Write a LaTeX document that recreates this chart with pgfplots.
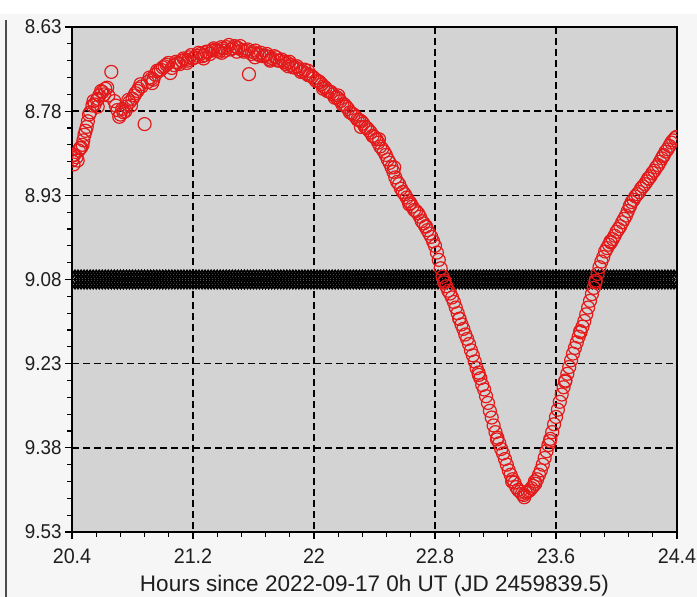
\documentclass[border=0pt]{standalone}
\usepackage{pgfplots}
\pgfplotsset{compat=1.18}
\usepackage{fontspec}
\setmainfont{Liberation Sans}
\newfontfamily\tickfont{Liberation Sans}[FakeStretch=0.94]
\definecolor{plotbg}{RGB}{211,211,211}
\definecolor{pagebg}{RGB}{246,246,246}
\definecolor{ptred}{RGB}{228,26,26}
\definecolor{txt}{RGB}{30,30,30}
\begin{document}
\begin{tikzpicture}
\useasboundingbox (-72pt,-65pt) rectangle (625pt,532pt);
\fill[pagebg] (-72pt,-65pt) rectangle (625pt,532pt);
\fill[white] (-72pt,518pt) rectangle (625pt,532pt);
\draw[gray!60!black, line width=1.2pt] (-66pt,-65pt) -- (-66pt,512pt);
\begin{axis}[
  at={(0pt,0pt)}, anchor=south west,
  scale only axis, width=605pt, height=505pt,
  xmin=20.4, xmax=24.4, ymin=8.63, ymax=9.53, y dir=reverse,
  xtick={20.4,21.2,22,22.8,23.6,24.4},
  xticklabels={20.4,21.2,22,22.8,23.6,24.4},
  ytick={8.63,8.78,8.93,9.08,9.23,9.38,9.53},
  yticklabels={8.63,8.78,8.93,9.08,9.23,9.38,9.53},
  minor x tick num=4, minor y tick num=4,
  tick pos=left, tick align=outside,
  major tick length=7pt, minor tick length=4.5pt,
  every tick/.style={black, line width=1.2pt},
  axis background/.style={fill=plotbg},
  grid=major,
  major grid style={black, line width=1.6pt, dash pattern=on 7pt off 4pt},
  axis line style={black, line width=1.3pt},
  xticklabel style={font=\tickfont\fontsize{21}{23}\selectfont, text=txt, yshift=-6pt},
  yticklabel style={font=\tickfont\fontsize{20}{22}\selectfont, text=txt},
  xlabel={Hours since 2022-09-17 0h UT (JD 2459839.5)},
  xlabel style={font=\fontsize{22.5}{24}\selectfont, text=txt, yshift=-7pt, inner sep=1pt},
  clip=true, clip marker paths=true,
]
\addplot[only marks, mark=diamond, mark size=9pt, mark options={draw=black, fill=none, line width=1.8pt}] coordinates {
(20.40,9.08) (20.42,9.08) (20.44,9.08) (20.46,9.08) (20.48,9.08) (20.50,9.08) (20.52,9.08) (20.54,9.08) (20.56,9.08) (20.58,9.08)
(20.60,9.08) (20.62,9.08) (20.64,9.08) (20.66,9.08) (20.68,9.08) (20.70,9.08) (20.72,9.08) (20.74,9.08) (20.76,9.08) (20.78,9.08)
(20.80,9.08) (20.82,9.08) (20.84,9.08) (20.86,9.08) (20.88,9.08) (20.90,9.08) (20.92,9.08) (20.94,9.08) (20.96,9.08) (20.98,9.08)
(21.00,9.08) (21.02,9.08) (21.04,9.08) (21.06,9.08) (21.08,9.08) (21.10,9.08) (21.12,9.08) (21.14,9.08) (21.16,9.08) (21.18,9.08)
(21.20,9.08) (21.22,9.08) (21.24,9.08) (21.26,9.08) (21.28,9.08) (21.30,9.08) (21.32,9.08) (21.34,9.08) (21.36,9.08) (21.38,9.08)
(21.40,9.08) (21.42,9.08) (21.44,9.08) (21.46,9.08) (21.48,9.08) (21.50,9.08) (21.52,9.08) (21.54,9.08) (21.56,9.08) (21.58,9.08)
(21.60,9.08) (21.62,9.08) (21.64,9.08) (21.66,9.08) (21.68,9.08) (21.70,9.08) (21.72,9.08) (21.74,9.08) (21.76,9.08) (21.78,9.08)
(21.80,9.08) (21.82,9.08) (21.84,9.08) (21.86,9.08) (21.88,9.08) (21.90,9.08) (21.92,9.08) (21.94,9.08) (21.96,9.08) (21.98,9.08)
(22.00,9.08) (22.02,9.08) (22.04,9.08) (22.06,9.08) (22.08,9.08) (22.10,9.08) (22.12,9.08) (22.14,9.08) (22.16,9.08) (22.18,9.08)
(22.20,9.08) (22.22,9.08) (22.24,9.08) (22.26,9.08) (22.28,9.08) (22.30,9.08) (22.32,9.08) (22.34,9.08) (22.36,9.08) (22.38,9.08)
(22.40,9.08) (22.42,9.08) (22.44,9.08) (22.46,9.08) (22.48,9.08) (22.50,9.08) (22.52,9.08) (22.54,9.08) (22.56,9.08) (22.58,9.08)
(22.60,9.08) (22.62,9.08) (22.64,9.08) (22.66,9.08) (22.68,9.08) (22.70,9.08) (22.72,9.08) (22.74,9.08) (22.76,9.08) (22.78,9.08)
(22.80,9.08) (22.82,9.08) (22.84,9.08) (22.86,9.08) (22.88,9.08) (22.90,9.08) (22.92,9.08) (22.94,9.08) (22.96,9.08) (22.98,9.08)
(23.00,9.08) (23.02,9.08) (23.04,9.08) (23.06,9.08) (23.08,9.08) (23.10,9.08) (23.12,9.08) (23.14,9.08) (23.16,9.08) (23.18,9.08)
(23.20,9.08) (23.22,9.08) (23.24,9.08) (23.26,9.08) (23.28,9.08) (23.30,9.08) (23.32,9.08) (23.34,9.08) (23.36,9.08) (23.38,9.08)
(23.40,9.08) (23.42,9.08) (23.44,9.08) (23.46,9.08) (23.48,9.08) (23.50,9.08) (23.52,9.08) (23.54,9.08) (23.56,9.08) (23.58,9.08)
(23.60,9.08) (23.62,9.08) (23.64,9.08) (23.66,9.08) (23.68,9.08) (23.70,9.08) (23.72,9.08) (23.74,9.08) (23.76,9.08) (23.78,9.08)
(23.80,9.08) (23.82,9.08) (23.84,9.08) (23.86,9.08) (23.88,9.08) (23.90,9.08) (23.92,9.08) (23.94,9.08) (23.96,9.08) (23.98,9.08)
(24.00,9.08) (24.02,9.08) (24.04,9.08) (24.06,9.08) (24.08,9.08) (24.10,9.08) (24.12,9.08) (24.14,9.08) (24.16,9.08) (24.18,9.08)
(24.20,9.08) (24.22,9.08) (24.24,9.08) (24.26,9.08) (24.28,9.08) (24.30,9.08) (24.32,9.08) (24.34,9.08) (24.36,9.08) (24.38,9.08)
(24.40,9.08)
};
\addplot[only marks, mark=o, mark size=6.5pt, mark options={draw=ptred, line width=1.2pt}] coordinates {
(20.400,8.868) (20.415,8.858) (20.430,8.862) (20.445,8.850) (20.460,8.845) (20.475,8.832) (20.490,8.815) (20.505,8.798)
(20.520,8.782) (20.535,8.770) (20.550,8.768) (20.565,8.760) (20.580,8.752) (20.600,8.746) (20.620,8.740) (20.640,8.752)
(20.660,8.710) (20.680,8.762) (20.700,8.778) (20.720,8.786) (20.740,8.782) (20.760,8.772) (20.780,8.764) (20.800,8.758)
(20.820,8.748) (20.840,8.740) (20.860,8.736) (20.880,8.803) (20.900,8.728) (20.925,8.722) (20.950,8.715) (20.975,8.708)
(21.000,8.702) (21.025,8.697) (21.050,8.712) (21.075,8.698) (21.100,8.694) (21.125,8.690) (21.150,8.688) (21.175,8.684)
(21.200,8.686) (21.225,8.681) (21.250,8.678) (21.275,8.680) (21.300,8.674) (21.325,8.672) (21.350,8.670) (21.375,8.674)
(21.400,8.668) (21.425,8.666) (21.450,8.670) (21.475,8.664) (21.500,8.668) (21.525,8.671) (21.550,8.672) (21.570,8.714)
(21.600,8.675) (21.625,8.678) (21.650,8.676) (21.675,8.681) (21.700,8.683) (21.725,8.686) (21.750,8.684) (21.775,8.690)
(21.800,8.692) (21.825,8.694) (21.850,8.698) (21.875,8.702) (21.900,8.705) (21.925,8.709) (21.950,8.713) (21.975,8.716)
(22.000,8.721) (22.025,8.726) (22.050,8.732) (22.075,8.738) (22.100,8.745) (22.125,8.750) (22.150,8.755) (22.175,8.762)
(22.200,8.768) (22.225,8.776) (22.250,8.784) (22.275,8.790) (22.300,8.796) (22.325,8.802) (22.350,8.810) (22.375,8.818)
(22.400,8.826) (22.425,8.836) (22.450,8.847) (22.475,8.858) (22.500,8.872) (22.525,8.888) (22.550,8.906) (22.575,8.918)
(22.600,8.928) (22.625,8.940) (22.650,8.950) (22.675,8.958) (22.700,8.968) (22.725,8.980) (22.750,8.992) (22.775,9.004)
(22.800,9.020) (22.825,9.045) (22.850,9.075) (22.875,9.092) (22.900,9.105) (22.925,9.120) (22.950,9.140) (22.975,9.160)
(23.000,9.178) (23.025,9.195) (23.050,9.215) (23.075,9.238) (23.100,9.256) (23.125,9.276) (23.150,9.300) (23.175,9.326)
(23.200,9.352) (23.225,9.372) (23.250,9.390) (23.275,9.410) (23.300,9.428) (23.325,9.442) (23.350,9.455) (23.375,9.462)
(23.400,9.460) (23.425,9.456) (23.450,9.448) (23.475,9.436) (23.500,9.420) (23.525,9.398) (23.550,9.375) (23.575,9.352)
(23.600,9.325) (23.625,9.298) (23.650,9.272) (23.675,9.248) (23.700,9.224) (23.725,9.202) (23.750,9.182) (23.775,9.164)
(23.800,9.142) (23.825,9.118) (23.850,9.095) (23.875,9.070) (23.900,9.048) (23.925,9.030) (23.950,9.018) (23.975,9.008)
(24.000,8.995) (24.025,8.985) (24.050,8.972) (24.075,8.958) (24.100,8.942) (24.125,8.932) (24.150,8.924) (24.175,8.914)
(24.200,8.905) (24.225,8.896) (24.250,8.886) (24.275,8.876) (24.300,8.864) (24.325,8.852) (24.350,8.842) (24.375,8.832)
(24.395,8.826)
(20.410,8.875) (20.470,8.840) (20.570,8.772) (20.690,8.770) (20.790,8.770) (20.930,8.730) (21.060,8.703) (21.160,8.694)
(21.270,8.686) (21.390,8.676) (21.490,8.674) (21.610,8.684) (21.710,8.690) (21.830,8.700) (21.960,8.708) (22.060,8.740)
(22.160,8.752) (22.310,8.808) (22.430,8.830) (22.530,8.880) (22.630,8.946) (22.740,8.985) (22.860,9.085) (22.960,9.150)
(23.090,9.250) (23.210,9.365) (23.310,9.440) (23.390,9.468) (23.460,9.440) (23.560,9.368) (23.660,9.262) (23.760,9.172)
(23.860,9.085) (23.960,9.012) (24.090,8.948) (24.210,8.900) (24.310,8.860)
(20.4075,8.858) (20.4375,8.868) (20.4525,8.846) (20.4825,8.822) (20.4975,8.808) (20.5125,8.786) (20.5425,8.762) (20.5725,8.758)
(20.5925,8.744) (20.6125,8.750) (20.6325,8.738) (20.7125,8.790) (20.7325,8.776) (20.7525,8.780) (20.7725,8.760) (20.8125,8.752)
(20.8325,8.744) (20.8525,8.732) (20.9125,8.720) (20.9375,8.724) (20.9625,8.708) (20.9875,8.706) (21.0125,8.700) (21.0375,8.694)
(21.0875,8.692) (21.1125,8.696) (21.1375,8.686) (21.1625,8.690) (21.1875,8.680) (21.2125,8.684) (21.2375,8.676) (21.2625,8.682)
(21.2875,8.674) (21.3125,8.678) (21.3375,8.668) (21.3625,8.672) (21.3875,8.666) (21.4125,8.672) (21.4375,8.662) (21.4625,8.668)
(21.4875,8.666) (21.5125,8.664) (21.5375,8.674) (21.5625,8.670) (21.5875,8.678) (21.6125,8.672) (21.6375,8.680) (21.6625,8.682)
(21.6875,8.678) (21.7125,8.688) (21.7375,8.682) (21.7625,8.690) (21.7875,8.688) (21.8125,8.696) (21.8375,8.692) (21.8625,8.702)
(21.8875,8.700) (21.9125,8.710) (21.9375,8.706) (21.9625,8.716) (21.9875,8.718) (22.0125,8.726) (22.0375,8.728) (22.0625,8.736)
(22.0875,8.744) (22.1125,8.746) (22.1375,8.756) (22.1625,8.758) (22.1875,8.768) (22.2125,8.772) (22.2375,8.782) (22.2625,8.786)
(22.2875,8.795) (22.3125,8.798) (22.3375,8.808) (22.3625,8.814) (22.3875,8.824) (22.4125,8.830) (22.4375,8.843) (22.4625,8.852)
(22.4875,8.866) (22.5125,8.880) (22.5375,8.898) (22.5625,8.910) (22.5875,8.924) (22.6125,8.934) (22.6375,8.944) (22.6625,8.956)
(22.6875,8.962) (22.7125,8.976) (22.7375,8.986) (22.7625,8.998) (22.7875,9.012) (22.8125,9.032) (22.8375,9.060) (22.8625,9.082)
(22.8875,9.100) (22.9125,9.112) (22.9375,9.130) (22.9625,9.150) (22.9875,9.168) (23.0125,9.186) (23.0375,9.206) (23.0625,9.226)
(23.0875,9.246) (23.1125,9.268) (23.1375,9.288) (23.1625,9.314) (23.1875,9.340) (23.2125,9.362) (23.2375,9.382) (23.2625,9.400)
(23.2875,9.420) (23.3125,9.436) (23.3375,9.450) (23.3625,9.458) (23.3875,9.464) (23.4125,9.458) (23.4375,9.452) (23.4625,9.444)
(23.4875,9.428) (23.5125,9.410) (23.5375,9.386) (23.5625,9.364) (23.5875,9.338) (23.6125,9.312) (23.6375,9.285) (23.6625,9.260)
(23.6875,9.236) (23.7125,9.212) (23.7375,9.192) (23.7625,9.174) (23.7875,9.154) (23.8125,9.130) (23.8375,9.106) (23.8625,9.082)
(23.8875,9.058) (23.9125,9.040) (23.9375,9.024) (23.9625,9.014) (23.9875,9.002) (24.0125,8.990) (24.0375,8.978) (24.0625,8.966)
(24.0875,8.950) (24.1125,8.938) (24.1375,8.928) (24.1625,8.918) (24.1875,8.910) (24.2125,8.900) (24.2375,8.890) (24.2625,8.880)
(24.2875,8.870) (24.3125,8.858) (24.3375,8.848) (24.3625,8.836) (24.3875,8.828)
};
\end{axis}
\end{tikzpicture}
\end{document}
